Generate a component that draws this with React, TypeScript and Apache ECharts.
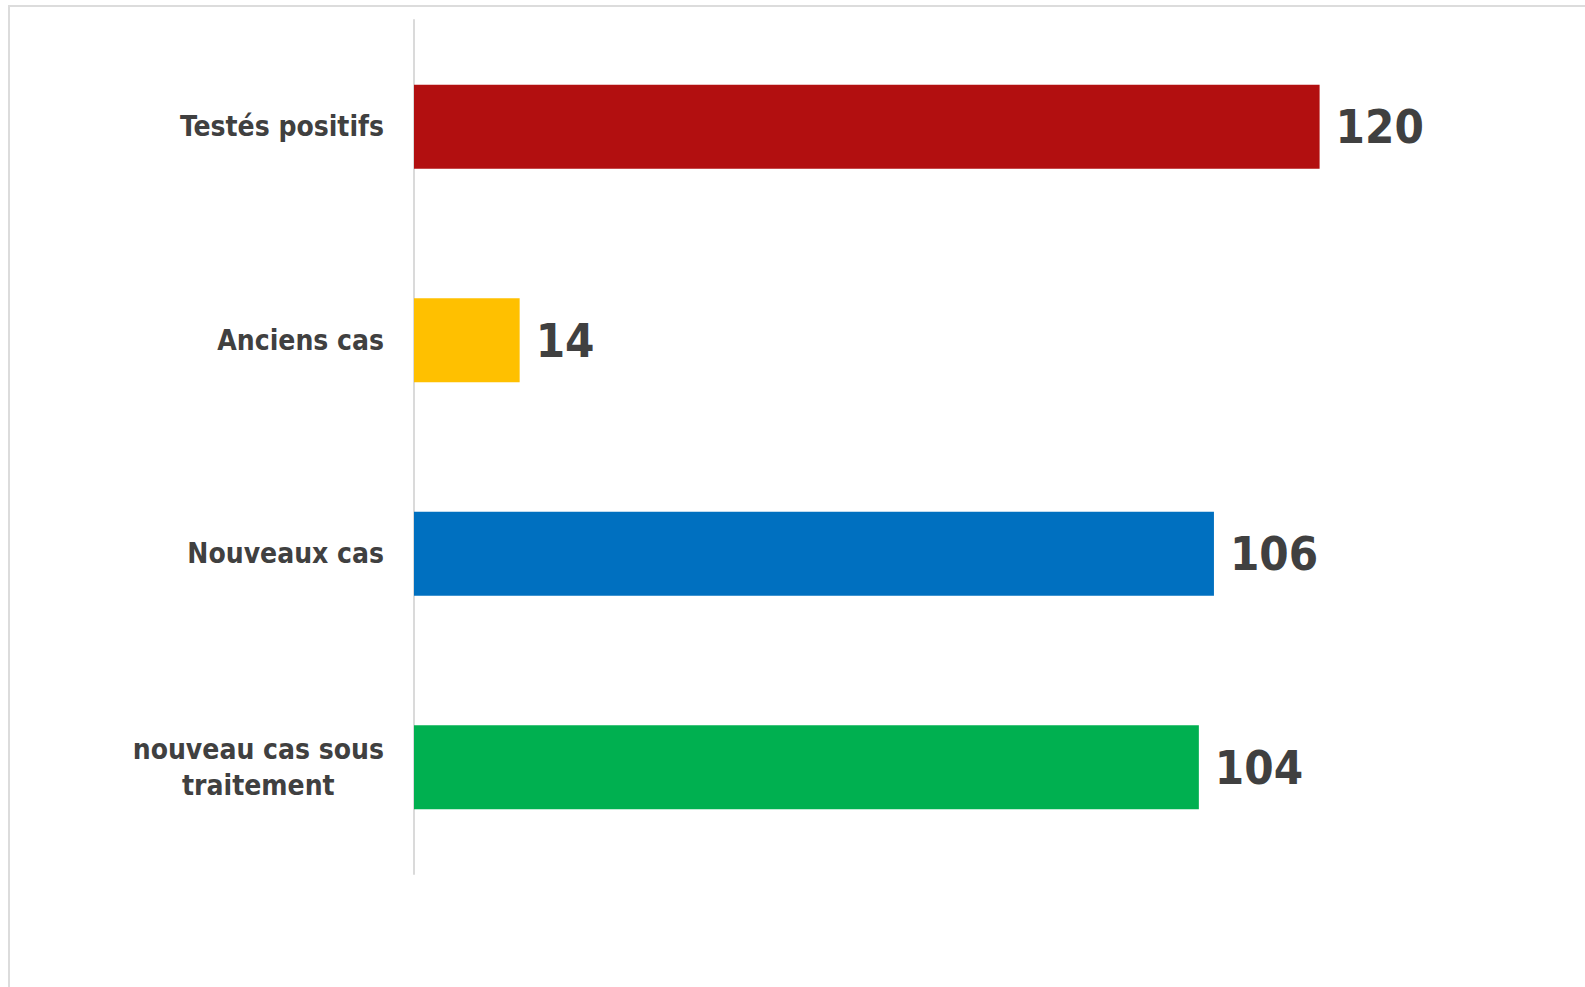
import React, { useEffect, useRef } from "react";
import * as echarts from "echarts";

const categories = ["Testés positifs", "Anciens cas", "Nouveaux cas", "nouveau cas sous traitement"];
const values = [120, 14, 106, 104];
const barColors = ["#B20F10", "#FFC000", "#0070C0", "#00B050"];

const FONT = "'DejaVu Sans Condensed', 'Liberation Sans Narrow', 'Noto Sans', sans-serif";

export default function App() {
  const ref = useRef<HTMLDivElement>(null);
  useEffect(() => {
    if (!ref.current) return;
    const chart = echarts.init(ref.current, undefined, { renderer: "svg" });
    chart.setOption({
      animation: false,
      backgroundColor: "#ffffff",
      graphic: [
        {
          type: "rect",
          shape: { x: 9, y: 6, width: 1700, height: 1100 },
          style: { fill: "none", stroke: "#dcdcdc", lineWidth: 2 },
          silent: true,
        },
      ],
      grid: { left: 414, top: 20, width: 1132, height: 854, containLabel: false },
      xAxis: {
        type: "value",
        min: 0,
        max: 150,
        show: false,
        splitLine: { show: false },
      },
      yAxis: {
        type: "category",
        inverse: true,
        data: categories,
        axisLine: { show: true, lineStyle: { color: "#dadada", width: 2 } },
        axisTick: { show: false },
        axisLabel: {
          margin: 30,
          color: "#404040",
          fontFamily: FONT,
          fontWeight: "bold",
          fontSize: 28,
          lineHeight: 36,
          formatter: (v: string) => {
            if (v.length > 20) {
              const i = v.lastIndexOf(" ");
              return "{c|" + v.slice(0, i) + "}\n{c|" + v.slice(i + 1) + "}";
            }
            return v;
          },
          rich: {
            c: {
              align: "center",
              color: "#404040",
              fontFamily: FONT,
              fontWeight: "bold",
              fontSize: 28,
              lineHeight: 36,
            },
          },
        },
      },
      series: [
        {
          type: "bar",
          barWidth: 84,
          data: values.map((v, i) => ({ value: v, itemStyle: { color: barColors[i] } })),
          label: {
            show: true,
            position: "right",
            distance: 16,
            color: "#404040",
            fontFamily: FONT,
            fontWeight: "bold",
            fontSize: 47,
          },
        },
      ],
    });
    return () => chart.dispose();
  }, []);
  return (
    <div
      ref={ref}
      style={{ position: "fixed", left: 0, top: 0, width: 1585, height: 987, background: "#fff" }}
    />
  );
}
